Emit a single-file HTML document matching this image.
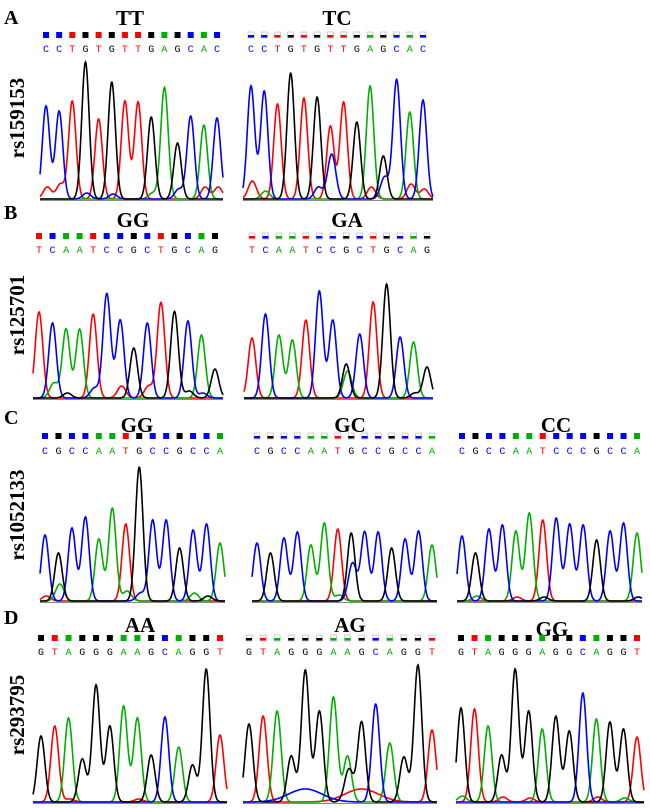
<!DOCTYPE html>
<html><head><meta charset="utf-8">
<style>
body{margin:0;background:#fff;}
svg{display:block;}
.lbl{font-family:"Liberation Serif",serif;font-weight:bold;}
.base{font-family:"Liberation Mono",monospace;font-size:10px;}
</style></head>
<body>
<svg id="fig" width="650" height="808" viewBox="0 0 650 808" xmlns="http://www.w3.org/2000/svg">
<g id="static">
<text class="lbl" x="4" y="24" font-size="20">A</text>
<text class="lbl" x="4" y="219" font-size="20">B</text>
<text class="lbl" x="4" y="424" font-size="20">C</text>
<text class="lbl" x="4" y="624" font-size="20">D</text>
<text class="lbl" font-size="21" text-anchor="middle" transform="translate(24,118) rotate(-90)">rs159153</text>
<text class="lbl" font-size="21" text-anchor="middle" transform="translate(24,315) rotate(-90)">rs125701</text>
<text class="lbl" font-size="21" text-anchor="middle" transform="translate(24,515) rotate(-90)">rs1052133</text>
<text class="lbl" font-size="21" text-anchor="middle" transform="translate(24,715) rotate(-90)">rs293795</text>
</g>
</svg>
<script>
// ---- data ----
const seqA1="CCTGTGTTGAGCAC";
const hA1=[93,88,98,137,80,117,98,97,82,102,56,83,74,81];
const secA1=[[0,"T",12],[1,"T",15],[3,"C",6],[5,"C",5],[8,"A",6],[9,"A",10],[10,"C",10],[12,"T",12],[13,"T",12]];
const seqA2="CCTGTGTTGAGCAC";
const hA2=[113,108,95,126,101,102,73,97,77,113,43,106,87,99];
const secA2=[[6,"C",45],[5,"C",12],[10,"C",22],[11,"C",14],[0,"T",18],[1,"A",8],[9,"T",12],[12,"T",15],[13,"T",10]];
const seqB1="TCAATCCGCTGCAG";
const hB1=[86,75,69,69,84,93,78,50,75,86,79,77,63,29];
const secB1=[[1,"A",15],[2,"G",5],[4,"C",10],[5,"C",12],[6,"T",12],[8,"T",12],[9,"T",10],[10,"G",8],[11,"G",7],[12,"C",5]];
const seqB2="TCAATCCGCTGCAG";
const hB2=[60,84,63,58,78,107,78,34,64,96,114,61,56,31];
const secB2=[[7,"A",27],[12,"G",5]];
const seqC1="CGCCAATGCCGCCA";
const hC1=[66,48,73,84,62,93,77,134,81,81,53,71,77,58];
const secC1=[[1,"A",17],[0,"T",5],[6,"A",10],[7,"C",8],[11,"A",8],[12,"G",5]];
const seqC2="CGCCAATGCCGCCA";
const hC2=[58,48,63,69,56,78,72,68,69,69,53,62,70,56];
const secC2=[[7,"C",38],[6,"A",6]];
const seqC3="CGCCAATCCCGCCA";
const hC3=[65,48,72,76,70,88,81,83,77,76,61,70,78,68];
const secC3=[[1,"A",5],[4,"T",4],[6,"G",4],[13,"G",4]];
const seqD1="GTAGGGAAGCAGGT";
const hD1=[66,76,84,43,117,76,96,84,47,85,55,37,133,67];
const secD1=[[2,"T",3],[7,"T",3]];
const seqD2="GTAGGGAAGCAGGT";
const hD2=[78,86,91,46,132,91,105,46,80,98,59,45,137,72];
const secD2=[[7,"G",33]];
const humpD2=[[4,"C",13],[8,"T",13]];
const seqD3="GTAGGGAGGCAGGT";
const hD3=[94,93,76,47,133,91,73,81,71,109,83,80,73,65];
const secD3=[[0,"A",6],[3,"T",5],[5,"T",4],[7,"G",5],[10,"T",5],[12,"A",4]];

// ---- layout ----
const COL={A:"#00b000",C:"#0000ff",G:"#000000",T:"#ff0000"};
const panels=[
 {id:"a-tt",title:"TT",tx:130,ty:25,seq:seqA1,h:hA1,sec:secA1,x0:46,x1:217,l:40,r:223,base:200,sq:35,ly:48,het:false},
 {id:"a-tc",title:"TC",tx:337,ty:25,seq:seqA2,h:hA2,sec:secA2,x0:251,x1:423,l:243,r:433,base:200,sq:35,ly:48,het:true},
 {id:"b-gg",title:"GG",tx:133,ty:227,seq:seqB1,h:hB1,sec:secB1,x0:39,x1:215,l:33,r:223,base:399,sq:236,ly:249,het:false},
 {id:"b-ga",title:"GA",tx:347,ty:227,seq:seqB2,h:hB2,sec:secB2,x0:252,x1:427,l:244,r:433,base:399,sq:236,ly:249,het:true},
 {id:"c-gg",title:"GG",tx:137,ty:432,seq:seqC1,h:hC1,sec:secC1,x0:45,x1:220,l:40,r:225,base:602,sq:436,ly:450,het:false},
 {id:"c-gc",title:"GC",tx:350,ty:432,seq:seqC2,h:hC2,sec:secC2,x0:257,x1:432,l:252,r:437,base:602,sq:436,ly:450,het:true},
 {id:"c-cc",title:"CC",tx:556,ty:432,seq:seqC3,h:hC3,sec:secC3,x0:462,x1:637,l:457,r:642,base:602,sq:436,ly:450,het:false},
 {id:"d-aa",title:"AA",tx:140,ty:632,seq:seqD1,h:hD1,sec:secD1,x0:41,x1:220,l:33,r:227,base:803,sq:638,ly:651,het:false},
 {id:"d-ag",title:"AG",tx:350,ty:632,seq:seqD2,h:hD2,sec:secD2,hump:humpD2,x0:249,x1:432,l:243,r:437,base:803,sq:638,ly:651,het:true},
 {id:"d-gg",title:"GG",tx:552,ty:636,seq:seqD3,h:hD3,sec:secD3,x0:461,x1:637,l:456,r:644,base:803,sq:638,ly:651,het:false}
];
const NS="http://www.w3.org/2000/svg";
const svg=document.getElementById("fig");
function mk(tag,attrs,parent){const e=document.createElementNS(NS,tag);for(const k in attrs)e.setAttribute(k,attrs[k]);parent.appendChild(e);return e;}

panels.forEach(p=>{
 const g=mk("g",{},svg);
 
 
 const t=mk("text",{x:p.tx,y:p.ty,"font-size":21,"text-anchor":"middle",class:"lbl"},g);
 t.textContent=p.title;
 
 
 const n=p.seq.length, sp=(p.x1-p.x0)/(n-1);
 const xOf=i=>p.x0+i*sp;
 const sig=sp*0.28;
 for(let i=0;i<n;i++){
  const b=p.seq[i], x=xOf(i);
  if(p.het){
   const r=mk("rect",{x:x-3,y:p.sq-3,width:6,height:6,fill:"#fff",stroke:"#bbb","stroke-width":0.7},g);
   
   
   mk("rect",{x:x-3,y:p.sq,width:6,height:2.5,fill:COL[b]},g);
  } else {
   const r=mk("rect",{x:x-3,y:p.sq-3,width:6,height:6,fill:COL[b]},g);
   
   
  }
  const tx=mk("text",{x:x,y:p.ly+4,"text-anchor":"middle",fill:COL[b],class:"base"},g);
  tx.textContent=b;
  
  
 }
 const step=0.5;
 const comps={A:[],C:[],G:[],T:[]};
 for(let i=0;i<n;i++) comps[p.seq[i]].push([xOf(i),p.h[i],sig]);
 (p.sec||[]).forEach(s=>comps[s[1]].push([xOf(s[0])+sp*0.1,s[2],sig*1.1]));
 (p.hump||[]).forEach(s=>comps[s[1]].push([xOf(s[0]),s[2],sp*1.2]));
 ["T","A","C","G"].forEach(b=>{
  let d="";
  for(let x=p.l;x<=p.r;x+=step){
   let y=0;
   comps[b].forEach(c=>{y+=c[1]*Math.exp(-((x-c[0])**2)/(2*c[2]*c[2]));});
   d+=(d?"L":"M")+x.toFixed(1)+","+(p.base-1-y).toFixed(1);
  }
  const path=mk("path",{d:d,fill:"none",stroke:COL[b],"stroke-width":1.6},g);
  
  
 });
 mk("line",{x1:p.l,y1:p.base+0.5,x2:p.r,y2:p.base+0.5,stroke:"#888","stroke-width":1},g);
});
</script>
</body></html>
